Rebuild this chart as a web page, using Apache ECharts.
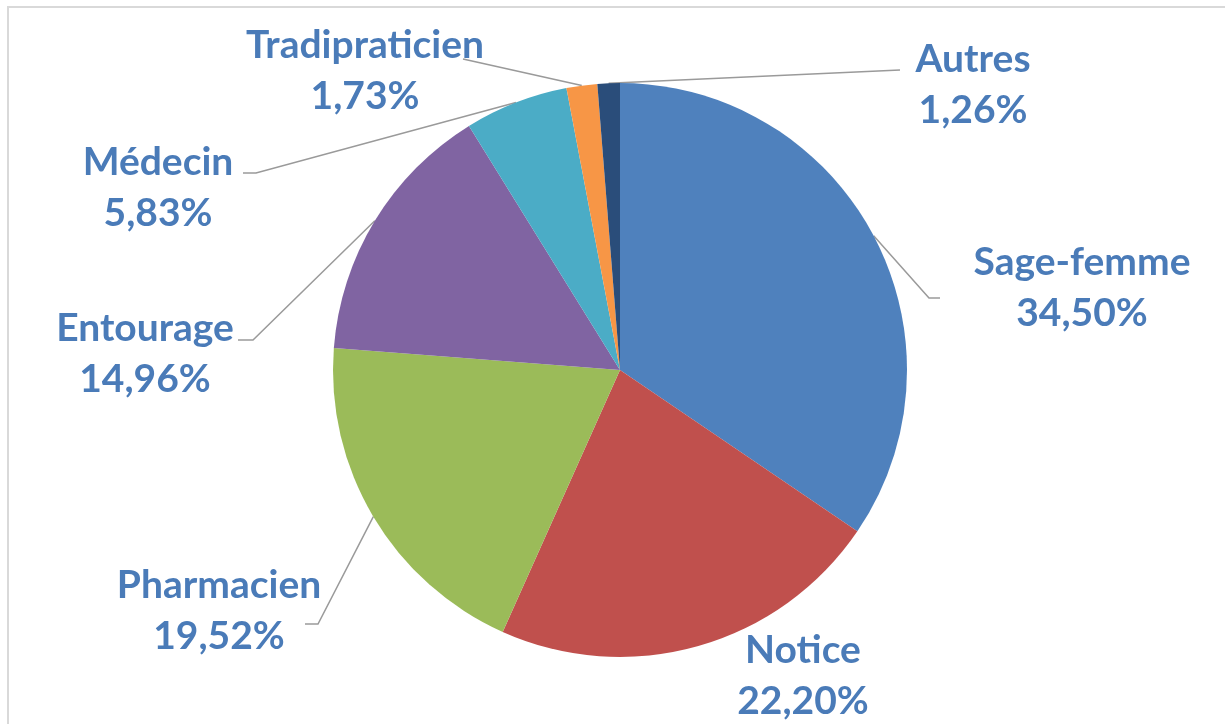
<!DOCTYPE html>
<html>
<head>
<meta charset="utf-8">
<script src="https://cdn.jsdelivr.net/npm/echarts@6/dist/echarts.min.js"></script>
<style>
  html, body { margin: 0; padding: 0; background: #ffffff; }
  #chart { width: 1225px; height: 724px; }
</style>
</head>
<body>
<div id="chart"></div>
<script>
// Sources d'information (part en %)
const categories = ['Sage-femme', 'Notice', 'Pharmacien', 'Entourage', 'Médecin', 'Tradipraticien', 'Autres'];
const shares = [34.50, 22.20, 19.52, 14.96, 5.83, 1.73, 1.26];

// Slice colours (Office palette)
const sliceColors = ['#4F81BD', '#C0504D', '#9BBB59', '#8064A2', '#4BACC6', '#F79646', '#2A4D7A'];

// Pie geometry
const PIE_CENTER = [620, 370];
const PIE_RADIUS = 287;

// Label placement: block centre, leader-line end at the label, elbow point
const labelSpots = [
  { at: [1082, 288], end: [940, 298], elbow: [929, 298] },
  { at: [803, 676], end: null },
  { at: [219, 611], end: [305, 624], elbow: [318, 624] },
  { at: [145, 354], end: [238, 340], elbow: [253, 340] },
  { at: [158, 188], end: [243, 173], elbow: [256, 173] },
  { at: [365, 71], end: [463, 59], elbow: [463, 59] },
  { at: [973, 85], end: [900, 70], elbow: [900, 70] }
];

const total = shares.reduce((a, b) => a + b, 0);

// Point on the outer arc at the middle angle of slice i (clockwise from 12 o'clock)
function arcMidPoint(i) {
  let before = 0;
  for (let k = 0; k < i; k++) before += shares[k];
  const a = (before + shares[i] / 2) / total * Math.PI * 2;
  return [PIE_CENTER[0] + PIE_RADIUS * Math.sin(a), PIE_CENTER[1] - PIE_RADIUS * Math.cos(a)];
}

function fmtPct(v) {
  return v.toFixed(2).replace('.', ',') + '%';
}

const pieData = categories.map((name, i) => {
  const item = { name: name, value: shares[i], itemStyle: { color: sliceColors[i] } };
  if (!labelSpots[i].end) item.labelLine = { show: false };
  return item;
});

const chart = echarts.init(document.getElementById('chart'), null, { renderer: 'canvas' });

chart.setOption({
  backgroundColor: '#ffffff',
  animation: false,
  graphic: [{
    type: 'rect',
    shape: { x: 8, y: 7, width: 1300, height: 800 },
    style: { fill: 'none', stroke: '#d9d9d9', lineWidth: 2 },
    z: -1
  }],
  series: [{
    type: 'pie',
    center: PIE_CENTER,
    radius: PIE_RADIUS,
    startAngle: 90,
    clockwise: true,
    data: pieData,
    itemStyle: { borderWidth: 0 },
    emphasis: { disabled: true },
    label: {
      show: true,
      position: 'outside',
      formatter: p => p.name + '\n' + fmtPct(p.value),
      fontFamily: 'Lato',
      fontWeight: 'bold',
      fontSize: 39,
      lineHeight: 51,
      color: '#4A7BB8',
      align: 'center'
    },
    labelLine: {
      show: true,
      lineStyle: { color: '#9a9a9a', width: 1.5 }
    },
    labelLayout: function (params) {
      const i = params.dataIndex;
      const s = labelSpots[i];
      const out = { x: s.at[0], y: s.at[1], align: 'center', verticalAlign: 'middle' };
      if (s.end) out.labelLinePoints = [arcMidPoint(i), s.elbow, s.end];
      return out;
    }
  }]
});
</script>
</body>
</html>
